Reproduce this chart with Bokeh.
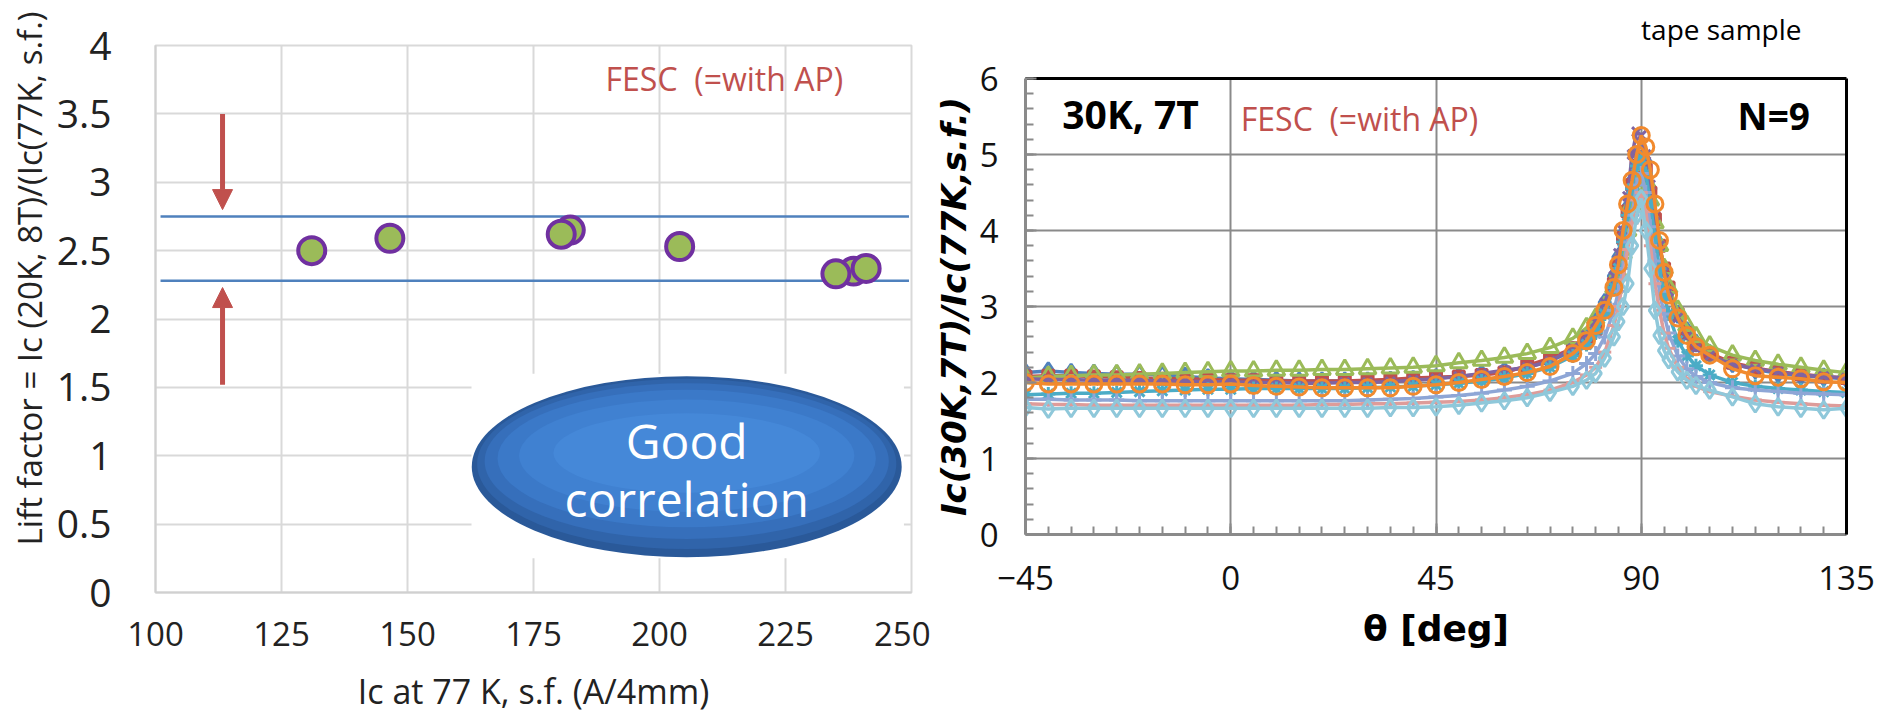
from bokeh.plotting import figure
from bokeh.layouts import row
from bokeh.models import (Range1d, SingleIntervalTicker, NumeralTickFormatter, Arrow,
                          NormalHead, Label, LinearAxis, Title)
from bokeh.embed import file_html
from bokeh.resources import INLINE

# ---------------- Left chart data ----------------
ic77 = [131.0, 146.5, 182.3, 180.5, 204.0, 238.5, 235.0, 241.0]
lift = [2.50, 2.59, 2.65, 2.62, 2.53, 2.35, 2.33, 2.37]
band_x = [101.0, 249.5]
band_upper = [2.75, 2.75]
band_lower = [2.28, 2.28]
left_xticks_interval = 25
left_yticks_interval = 0.5

# ---------------- Right chart data ----------------
theta = [-45, -40, -35, -30, -25, -20, -15, -10, -5, 0, 5, 10, 15, 20, 25, 30, 35, 40, 45,
         50, 55, 60, 65, 70, 75, 78, 80, 82, 84, 85, 86, 87, 88, 89, 90, 91, 92, 93, 94, 95,
         96, 98, 100, 102, 105, 110, 115, 120, 125, 130, 135]

s_blue = [2.13, 2.15, 2.13, 2.12, 2.11, 2.11, 2.10, 2.08, 2.06, 2.05, 2.04, 2.03, 2.02, 2.02,
          2.02, 2.02, 2.03, 2.04, 2.06, 2.08, 2.11, 2.15, 2.20, 2.28, 2.42, 2.60, 2.80, 3.05,
          3.40, 3.65, 3.95, 4.30, 4.65, 4.95, 5.05, 4.90, 4.55, 4.15, 3.80, 3.50, 3.20, 2.90,
          2.68, 2.52, 2.38, 2.25, 2.17, 2.12, 2.09, 2.07, 2.05]
s_red = [2.08, 2.09, 2.09, 2.08, 2.07, 2.06, 2.05, 2.05, 2.04, 2.03, 2.03, 2.02, 2.02, 2.02,
         2.02, 2.03, 2.04, 2.06, 2.07, 2.08, 2.10, 2.13, 2.22, 2.32, 2.45, 2.58, 2.70, 2.95,
         3.30, 3.55, 3.90, 4.25, 4.60, 4.85, 4.95, 4.80, 4.50, 4.15, 3.80, 3.50, 3.25, 2.90,
         2.65, 2.50, 2.38, 2.26, 2.19, 2.14, 2.11, 2.08, 2.06]
s_green = [2.06, 2.08, 2.09, 2.10, 2.10, 2.11, 2.12, 2.13, 2.14, 2.15, 2.15, 2.16, 2.16, 2.17,
           2.17, 2.18, 2.19, 2.20, 2.22, 2.26, 2.29, 2.33, 2.38, 2.46, 2.58, 2.72, 2.84, 3.00,
           3.25, 3.45, 3.70, 4.00, 4.35, 4.60, 4.75, 4.65, 4.40, 4.10, 3.80, 3.50, 3.25, 2.95,
           2.75, 2.60, 2.48, 2.36, 2.29, 2.24, 2.20, 2.16, 2.13]
s_purple = [2.05, 2.04, 2.04, 2.03, 2.03, 2.03, 2.02, 2.02, 2.01, 2.01, 2.00, 2.00, 1.99, 1.99,
            2.00, 2.00, 2.01, 2.03, 2.05, 2.08, 2.12, 2.16, 2.20, 2.28, 2.45, 2.62, 2.80, 3.05,
            3.40, 3.70, 4.00, 4.45, 5.00, 5.30, 5.25, 5.00, 4.60, 4.20, 3.80, 3.45, 3.20, 2.85,
            2.60, 2.45, 2.35, 2.24, 2.18, 2.14, 2.10, 2.08, 2.06]
s_aqua = [1.84, 1.85, 1.86, 1.86, 1.87, 1.88, 1.89, 1.90, 1.91, 1.91, 1.92, 1.92, 1.92, 1.92,
          1.92, 1.93, 1.94, 1.95, 1.97, 1.99, 2.02, 2.06, 2.12, 2.20, 2.35, 2.50, 2.65, 2.90,
          3.25, 3.50, 3.85, 4.20, 4.55, 4.85, 4.95, 4.75, 4.35, 3.90, 3.50, 3.15, 2.90, 2.55,
          2.35, 2.22, 2.10, 2.00, 1.95, 1.92, 1.90, 1.88, 1.87]
s_lightblue = [1.78, 1.78, 1.77, 1.77, 1.77, 1.76, 1.76, 1.76, 1.76, 1.76, 1.76, 1.76, 1.76, 1.76,
               1.76, 1.77, 1.78, 1.79, 1.81, 1.83, 1.86, 1.90, 1.95, 2.02, 2.12, 2.25, 2.38, 2.60,
               2.95, 3.20, 3.50, 3.85, 4.20, 4.60, 4.75, 4.50, 4.05, 3.60, 3.20, 2.90, 2.65, 2.35,
               2.18, 2.08, 2.00, 1.93, 1.90, 1.88, 1.86, 1.85, 1.84]
s_pink = [1.72, 1.71, 1.71, 1.70, 1.70, 1.70, 1.70, 1.70, 1.70, 1.70, 1.70, 1.70, 1.70, 1.71,
          1.71, 1.72, 1.72, 1.73, 1.74, 1.75, 1.77, 1.80, 1.84, 1.90, 2.00, 2.10, 2.20, 2.40,
          2.75, 3.00, 3.35, 3.75, 4.10, 4.40, 4.50, 4.25, 3.80, 3.30, 2.95, 2.65, 2.45, 2.20,
          2.05, 1.95, 1.88, 1.82, 1.77, 1.74, 1.72, 1.70, 1.69]
s_lightcyan = [1.67, 1.65, 1.66, 1.66, 1.66, 1.66, 1.66, 1.66, 1.66, 1.66, 1.66, 1.66, 1.66, 1.66,
               1.66, 1.66, 1.67, 1.67, 1.68, 1.70, 1.73, 1.76, 1.80, 1.87, 1.95, 2.03, 2.12, 2.32,
               2.60, 2.80, 3.00, 3.30, 3.80, 4.20, 4.42, 4.00, 3.50, 2.95, 2.62, 2.42, 2.30, 2.14,
               2.03, 1.96, 1.90, 1.81, 1.72, 1.68, 1.66, 1.64, 1.66]
s_orange = [2.00, 1.98, 1.98, 1.98, 1.98, 1.98, 1.98, 1.97, 1.97, 1.98, 1.96, 1.95, 1.94, 1.93,
            1.93, 1.93, 1.93, 1.95, 1.97, 2.00, 2.04, 2.08, 2.13, 2.21, 2.38, 2.55, 2.75, 2.95,
            3.25, 3.55, 4.00, 4.35, 4.66, 5.00, 5.25, 5.10, 4.80, 4.35, 3.87, 3.45, 3.15, 2.85,
            2.62, 2.47, 2.36, 2.18, 2.09, 2.07, 2.05, 2.01, 2.00]

series = [
    (s_blue, "#4F81BD", "diamond", 17, False),
    (s_red, "#C0504D", "square", 11, True),
    (s_green, "#9BBB59", "triangle", 17, False),
    (s_purple, "#8064A2", "x", 13, False),
    (s_aqua, "#4BACC6", "asterisk", 14, False),
    (s_lightblue, "#8EA6D6", "cross", 15, False),
    (s_pink, "#DE9C9A", "dash", 13, False),
    (s_lightcyan, "#8FC8DA", "diamond", 17, False),
    (s_orange, "#F18A2E", "circle", 16, False),
]

RED = "#C0504D"
FESC = "FESC\u00a0 (=with AP)"

# ================= LEFT FIGURE =================
p1 = figure(width=930, height=717, x_range=Range1d(100, 250), y_range=Range1d(0, 4),
            output_backend="svg", toolbar_location=None,
            min_border_left=155, min_border_right=19, min_border_top=45, min_border_bottom=125)
p1.frame_align = False
p1.background_fill_color = "white"
p1.border_fill_color = "white"
p1.outline_line_color = "#D9D9D9"
p1.outline_line_width = 2

p1.xaxis.ticker = SingleIntervalTicker(interval=left_xticks_interval, num_minor_ticks=0)
p1.yaxis.ticker = SingleIntervalTicker(interval=left_yticks_interval, num_minor_ticks=0)
p1.yaxis.formatter = NumeralTickFormatter(format="0.[0]")
for ax in (p1.xaxis[0], p1.yaxis[0]):
    ax.axis_line_color = "#D0D0D0"
    ax.axis_line_width = 2
    ax.major_tick_line_color = None
    ax.minor_tick_line_color = None
p1.xaxis.major_label_text_font = "Open Sans"
p1.xaxis.major_label_text_font_size = "33px"
p1.xaxis.major_label_text_color = "#222222"
p1.xaxis.major_label_standoff = 23
p1.xaxis.axis_label = "Ic at 77 K, s.f. (A/4mm)"
p1.xaxis.axis_label_text_font = "Open Sans"
p1.xaxis.axis_label_text_font_size = "34px"
p1.xaxis.axis_label_text_font_style = "normal"
p1.xaxis.axis_label_text_color = "#222222"
p1.xaxis.axis_label_standoff = 19
p1.yaxis.major_label_text_font = "Open Sans"
p1.yaxis.major_label_text_font_size = "39px"
p1.yaxis.major_label_text_color = "#222222"
p1.yaxis.major_label_standoff = 38
p1.xgrid.grid_line_color = "#D9D9D9"
p1.ygrid.grid_line_color = "#D9D9D9"
p1.xgrid.grid_line_width = 2
p1.ygrid.grid_line_width = 2

p1.add_layout(Title(text="Lift factor = Ic (20K, 8T)/(Ic(77K, s.f.)", align="left", offset=47,
                    standoff=4, text_font="Open Sans", text_font_size="33px",
                    text_font_style="normal", text_color="#222222"), "left")

# white patch behind the callout shape
p1.quad(left=[162.7], right=[248.5], bottom=[0.25], top=[1.6], fill_color="white", line_color=None)

# band lines
p1.line(band_x, band_upper, line_color="#4F81BD", line_width=2.5)
p1.line(band_x, band_lower, line_color="#4F81BD", line_width=2.5)

# points
p1.scatter(ic77, lift, marker="circle", size=27, fill_color="#9BBB59",
           line_color="#7030A0", line_width=4)

# arrows
p1.add_layout(Arrow(end=NormalHead(size=20, fill_color=RED, line_color=RED),
                    x_start=113.3, y_start=3.5, x_end=113.3, y_end=2.80,
                    line_color=RED, line_width=5))
p1.add_layout(Arrow(end=NormalHead(size=20, fill_color=RED, line_color=RED),
                    x_start=113.3, y_start=1.52, x_end=113.3, y_end=2.23,
                    line_color=RED, line_width=5))

# callout ellipse (layered to suggest gradient)
cx, cy, ew, eh = 205.4, 0.92, 85.3, 1.324
layers = [
    (1.00, 1.00, 0.00, "#2A5999"),
    (0.975, 0.94, 0.02, "#3064AA"),
    (0.94, 0.86, 0.04, "#366FBB"),
    (0.88, 0.76, 0.06, "#3B79C8"),
    (0.78, 0.62, 0.08, "#4081D1"),
    (0.62, 0.44, 0.10, "#4588D8"),
]
for fw, fh, dy, col in layers:
    p1.ellipse(x=[cx], y=[cy + dy], width=[ew * fw], height=[eh * fh],
               fill_color=col, line_color=None)

p1.add_layout(Label(x=cx, y=1.11, text="Good", text_align="center", text_baseline="middle",
                    text_font="Open Sans", text_font_size="48px", text_color="white"))
p1.add_layout(Label(x=cx, y=0.69, text="correlation", text_align="center", text_baseline="middle",
                    text_font="Open Sans", text_font_size="48px", text_color="white"))

p1.add_layout(Label(x=189.3, y=3.76, text=FESC, text_align="left",
                    text_baseline="middle", text_font="Open Sans",
                    text_font_size="32px", text_color=RED))

# ================= RIGHT FIGURE =================
p2 = figure(width=963, height=717, x_range=Range1d(-45, 135), y_range=Range1d(0, 6),
            output_backend="svg", toolbar_location=None, title=None,
            min_border_left=92, min_border_right=47, min_border_top=78, min_border_bottom=183)
p2.frame_align = False
p2.background_fill_color = "white"
p2.border_fill_color = "white"
p2.outline_line_color = None

GRAY = "#8A8A8A"
p2.xaxis.ticker = SingleIntervalTicker(interval=45, num_minor_ticks=9)
p2.yaxis.ticker = SingleIntervalTicker(interval=1, num_minor_ticks=5)
for ax in (p2.xaxis[0], p2.yaxis[0]):
    ax.axis_line_color = GRAY
    ax.axis_line_width = 3
    ax.major_tick_line_color = GRAY
    ax.major_tick_line_width = 2
    ax.major_tick_in = 11
    ax.major_tick_out = 0
    ax.minor_tick_line_color = GRAY
    ax.minor_tick_line_width = 2
    ax.minor_tick_in = 8
    ax.minor_tick_out = 0
    ax.major_label_text_font = "Open Sans"
    ax.major_label_text_font_size = "33px"
    ax.major_label_text_color = "#111111"
p2.xaxis.major_label_standoff = 31
p2.yaxis.major_label_standoff = 27
p2.yaxis.axis_label = "Ic(30K,7T)/Ic(77K,s.f.)"
p2.yaxis.axis_label_text_font = "DejaVu Sans"
p2.yaxis.axis_label_text_font_size = "34px"
p2.yaxis.axis_label_text_font_style = "bold italic"
p2.yaxis.axis_label_text_color = "black"
p2.yaxis.axis_label_standoff = 3
p2.xaxis.axis_label = "θ [deg]"
p2.xaxis.axis_label_text_font = "DejaVu Sans"
p2.xaxis.axis_label_text_font_size = "36px"
p2.xaxis.axis_label_text_font_style = "bold"
p2.xaxis.axis_label_text_color = "black"
p2.xaxis.axis_label_standoff = 15
p2.xgrid.grid_line_color = GRAY
p2.ygrid.grid_line_color = GRAY
p2.xgrid.grid_line_width = 2
p2.ygrid.grid_line_width = 2

top_ax = LinearAxis(axis_line_color="black", axis_line_width=3, major_tick_line_color=None,
                    minor_tick_line_color=None, major_label_text_color=None,
                    major_label_text_font_size="1px", major_label_standoff=0,
                    axis_label="\u00a0", axis_label_text_font_size="2px",
                    axis_label_standoff=18)
p2.add_layout(top_ax, "above")
right_ax = LinearAxis(axis_line_color="black", axis_line_width=3, major_tick_line_color=None,
                      minor_tick_line_color=None, major_label_text_color=None,
                      major_label_text_font_size="1px", major_label_standoff=0)
p2.add_layout(right_ax, "right")

p2.add_layout(Title(text="tape sample", align="right", offset=45, standoff=4,
                    text_font="Open Sans", text_font_size="28px", text_font_style="normal",
                    text_color="black"), "above")

for vals, col, mk, sz, filled in series:
    p2.line(theta, vals, line_color=col, line_width=3.5)
    p2.scatter(theta, vals, marker=mk, size=sz, line_color=col, line_width=3,
               fill_color=col if filled else None)

p2.add_layout(Label(x=-21.95, y=5.54, text="30K, 7T", text_align="center", text_baseline="middle",
                    text_font="Open Sans", text_font_size="39px", text_font_style="bold",
                    text_color="black"))
p2.add_layout(Label(x=2.2, y=5.47, text=FESC, text_align="left",
                    text_baseline="middle", text_font="Open Sans",
                    text_font_size="32px", text_color=RED))
p2.add_layout(Label(x=119.05, y=5.51, text="N=9", text_align="center", text_baseline="middle",
                    text_font="Open Sans", text_font_size="37px", text_font_style="bold",
                    text_color="black"))

layout = row(p1, p2)
open("out.html", "w").write(file_html(layout, INLINE))
